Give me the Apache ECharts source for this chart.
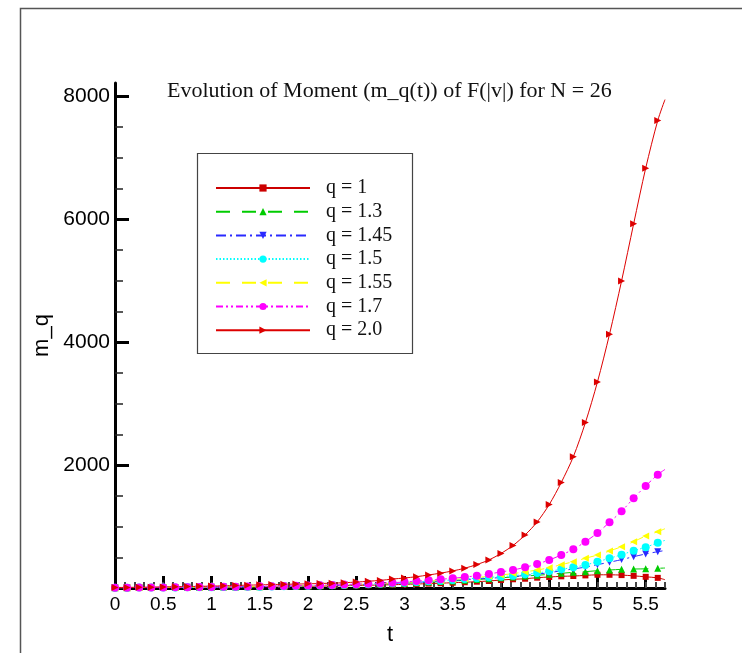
<!DOCTYPE html>
<html>
<head>
<meta charset="utf-8">
<script src="https://cdn.jsdelivr.net/npm/echarts@6/dist/echarts.min.js"></script>
<style>
  html, body { margin: 0; padding: 0; background: #fff; }
  #chart { width: 742px; height: 653px; }
</style>
</head>
<body>
<div id="chart"></div>
<script>
// time samples (markers every 0.125, last point is the curve end)
const tValues = [0, 0.125, 0.25, 0.375, 0.5, 0.625, 0.75, 0.875, 1, 1.125, 1.25, 1.375, 1.5, 1.625, 1.75, 1.875,
  2, 2.125, 2.25, 2.375, 2.5, 2.625, 2.75, 2.875, 3, 3.125, 3.25, 3.375, 3.5, 3.625, 3.75, 3.875,
  4, 4.125, 4.25, 4.375, 4.5, 4.625, 4.75, 4.875, 5, 5.125, 5.25, 5.375, 5.5, 5.625, 5.7];

const mq_1 = [6, 7, 8, 9, 10, 11, 12, 13, 14, 15, 17, 18, 20, 22, 24, 26,
  28, 31, 34, 37, 41, 45, 49, 54, 59, 65, 71, 78, 86, 94, 103, 114,
  130, 142, 151, 168, 179, 190, 195, 205, 215, 215, 210, 198, 182, 165, 135];
const mq_13 = [5, 6, 7, 8, 9, 10, 11, 12, 14, 15, 17, 19, 21, 24, 27, 30,
  33, 37, 42, 47, 52, 58, 64, 71, 79, 87, 96, 105, 115, 126, 138, 150,
  165, 180, 195, 207, 223, 239, 255, 266, 282, 293, 304, 309, 312, 321, 325];
const mq_145 = [5, 6, 7, 8, 9, 10, 11, 12, 14, 16, 18, 20, 22, 24, 27, 30,
  34, 38, 43, 48, 54, 60, 67, 75, 83, 92, 102, 113, 124, 136, 148, 158,
  170, 186, 205, 226, 250, 280, 310, 340, 380, 420, 462, 510, 554, 591, 610];
const mq_15 = [5, 6, 7, 8, 9, 10, 11, 13, 14, 16, 18, 20, 22, 25, 28, 31,
  35, 39, 44, 50, 56, 63, 70, 78, 87, 97, 108, 120, 132, 146, 160, 173,
  184, 200, 222, 244, 272, 304, 337, 375, 428, 484, 542, 607, 663, 738, 775];
const mq_155 = [5, 6, 7, 8, 9, 10, 12, 13, 15, 17, 19, 21, 23, 26, 29, 32,
  36, 40, 45, 51, 57, 64, 72, 80, 90, 100, 112, 124, 138, 152, 170, 190,
  212, 234, 262, 293, 330, 380, 428, 484, 537, 602, 673, 754, 847, 917, 965];
const mq_17 = [5, 6, 7, 8, 10, 11, 13, 15, 17, 19, 21, 24, 27, 30, 33, 36,
  40, 44, 49, 55, 62, 69, 77, 86, 98, 112, 126, 142, 158, 178, 200, 228,
  261, 293, 337, 391, 456, 537, 630, 754, 896, 1070, 1249, 1461, 1661, 1845, 1930];
const mq_20 = [8, 10, 12, 14, 17, 20, 23, 27, 31, 36, 41, 46, 51, 56, 60, 64,
  68, 73, 79, 86, 96, 110, 124, 145, 163, 184, 212, 242, 278, 322, 382, 456,
  562, 692, 863, 1075, 1358, 1718, 2138, 2692, 3354, 4131, 4999, 5927, 6834, 7610, 7950];

const seriesNames = ['q = 1', 'q = 1.3', 'q = 1.45', 'q = 1.5', 'q = 1.55', 'q = 1.7', 'q = 2.0'];

const xMajorTicks = [0, 0.5, 1, 1.5, 2, 2.5, 3, 3.5, 4, 4.5, 5, 5.5];
const yMajorTicks = [0, 2000, 4000, 6000, 8000];
const yTickLabels = [2000, 4000, 6000, 8000];
const yMinorTicks = [500, 1000, 1500, 2500, 3000, 3500, 4500, 5000, 5500, 6500, 7000, 7500];
const xMinorTicks = [];
for (let i = 1; i <= 57; i++) xMinorTicks.push(i / 10);

const SANS = 'Liberation Sans, Arial, sans-serif';
const SERIF = 'Liberation Serif, Times New Roman, serif';

// 一条曲线：标记在每个采样点上，最后一个点只画线
function makeSeries(name, values, color, symbol, rotate, size, dash) {
  const last = values.length - 1;
  return {
    name: name,
    type: 'line',
    smooth: 0.3,
    xAxisIndex: 0,
    yAxisIndex: 0,
    showAllSymbol: true,
    symbol: symbol,
    symbolSize: size,
    symbolRotate: rotate,
    data: values.map((v, i) => i === last
      ? { value: [tValues[i], v], symbol: 'none' }
      : [tValues[i], v]),
    lineStyle: { color: color, width: 1, type: dash },
    itemStyle: { color: color },
    emphasis: { disabled: true }
  };
}

const chart = echarts.init(document.getElementById('chart'), null, { renderer: 'canvas' });

const option = {
  animation: false,
  backgroundColor: '#fff',
  title: {
    text: 'Evolution of Moment (m_q(t)) of F(|v|) for N = 26',
    left: 167,
    top: 80,
    padding: 0,
    textStyle: { fontFamily: SERIF, fontSize: 22, fontWeight: 'normal', color: '#111' }
  },
  grid: { left: 115, right: 77, top: 83, bottom: 65, containLabel: false },
  legend: {
    orient: 'vertical',
    left: 197,
    top: 153,
    padding: [25, 20, 14, 18],
    itemWidth: 94,
    itemHeight: 9,
    itemGap: 3.7,
    selectedMode: false,
    data: seriesNames,
    textStyle: { fontFamily: SERIF, fontSize: 20, lineHeight: 20, color: '#111', padding: [0, 0, 0, 11] }
  },
  graphic: [
    {
      type: 'rect',
      shape: { x: 197.5, y: 153.5, width: 215, height: 200 },
      style: { fill: 'none', stroke: '#444', lineWidth: 1.2 },
      z: 10
    },
    {
      type: 'polyline',
      shape: { points: [[20.5, 653], [20.5, 8.5], [742, 8.5]] },
      style: { fill: 'none', stroke: '#555', lineWidth: 1.5 },
      z: 10
    }
  ],
  xAxis: [
    {
      type: 'value', min: 0, max: 5.7, position: 'bottom',
      name: 't', nameLocation: 'middle', nameGap: 36, nameMoveOverlap: false,
      nameTextStyle: { fontFamily: SANS, fontSize: 22, color: '#000' },
      axisLine: { show: true, onZero: false, lineStyle: { color: '#000', width: 3 } },
      axisTick: { show: true, inside: true, length: 12, customValues: xMajorTicks,
        lineStyle: { color: '#000', width: 3 } },
      axisLabel: { customValues: xMajorTicks, fontFamily: SANS, fontSize: 19, color: '#000', margin: 7 },
      splitLine: { show: false }
    },
    {
      type: 'value', min: 0, max: 5.7, position: 'bottom',
      axisLine: { show: false },
      axisTick: { show: true, inside: true, length: 6, customValues: xMinorTicks,
        lineStyle: { color: '#444', width: 2 } },
      axisLabel: { show: false },
      splitLine: { show: false }
    }
  ],
  yAxis: [
    {
      type: 'value', min: 0, max: 8220, position: 'left',
      name: 'm_q', nameLocation: 'middle', nameGap: 62, nameRotate: 90, nameMoveOverlap: false,
      nameTextStyle: { fontFamily: SANS, fontSize: 22, color: '#000' },
      axisLine: { show: true, onZero: false, lineStyle: { color: '#000', width: 3 } },
      axisTick: { show: true, inside: true, length: 14, customValues: yMajorTicks,
        lineStyle: { color: '#000', width: 3 } },
      axisLabel: { customValues: yTickLabels, formatter: v => String(v),
        fontFamily: SANS, fontSize: 21, color: '#000', margin: 5 },
      splitLine: { show: false }
    },
    {
      type: 'value', min: 0, max: 8220, position: 'left',
      axisLine: { show: false },
      axisTick: { show: true, inside: true, length: 8, customValues: yMinorTicks,
        lineStyle: { color: '#222', width: 1.5 } },
      axisLabel: { show: false },
      splitLine: { show: false }
    }
  ],
  series: [
    makeSeries(seriesNames[0], mq_1, '#cc0000', 'rect', 0, 6, 'solid'),
    makeSeries(seriesNames[1], mq_13, '#00cc00', 'triangle', 0, 7, [14, 12]),
    makeSeries(seriesNames[2], mq_145, '#2a2aff', 'triangle', 180, 7, [10, 4, 2, 4]),
    makeSeries(seriesNames[3], mq_15, '#00ffff', 'circle', 0, 8, [1.5, 2]),
    makeSeries(seriesNames[4], mq_155, '#ffff00', 'triangle', 90, 7, [14, 12]),
    makeSeries(seriesNames[5], mq_17, '#ff00ff', 'circle', 0, 8, [7, 3, 2, 3, 2, 3]),
    makeSeries(seriesNames[6], mq_20, '#dd0000', 'triangle', -90, 7, 'solid')
  ]
};

chart.setOption(option);
</script>
</body>
</html>
